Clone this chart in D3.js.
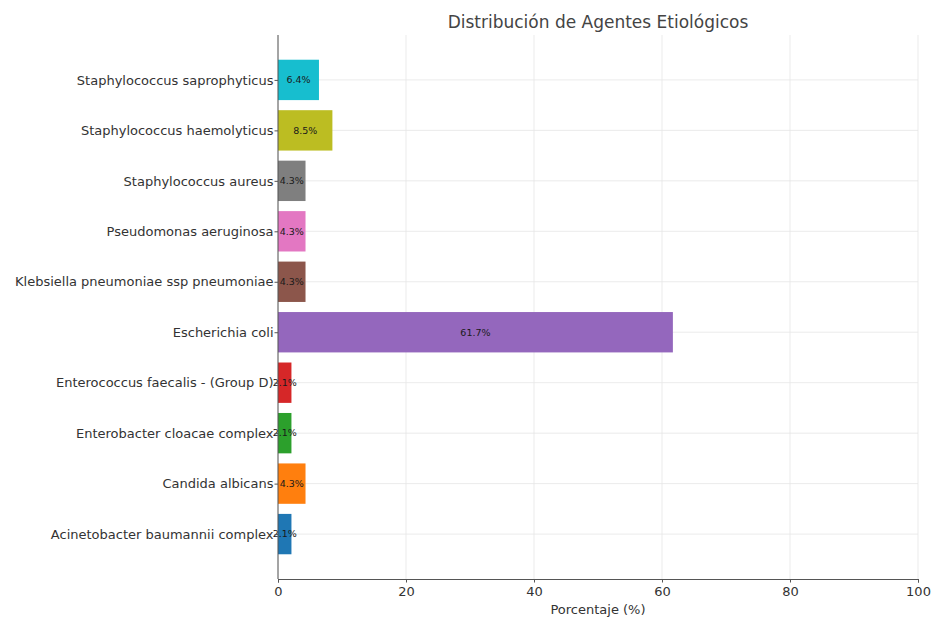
<!DOCTYPE html>
<html>
<head>
<meta charset="utf-8">
<script src="https://cdn.jsdelivr.net/npm/d3@7"></script>
<style>
  body { margin: 0; background: #fff; }
  svg { font-family: "DejaVu Sans", sans-serif; }
</style>
</head>
<body>
<svg id="chart" width="932" height="619"></svg>
<script>
// Data (bottom to top as drawn)
const categories = [
  "Acinetobacter baumannii complex",
  "Candida albicans",
  "Enterobacter cloacae complex",
  "Enterococcus faecalis - (Group D)",
  "Escherichia coli",
  "Klebsiella pneumoniae ssp pneumoniae",
  "Pseudomonas aeruginosa",
  "Staphylococcus aureus",
  "Staphylococcus haemolyticus",
  "Staphylococcus saprophyticus"
];
const values = [2.1, 4.3, 2.1, 2.1, 61.7, 4.3, 4.3, 4.3, 8.5, 6.4];
const colors = ["#1f77b4", "#ff7f0e", "#2ca02c", "#d62728", "#9467bd",
                "#8c564b", "#e377c2", "#7f7f7f", "#bcbd22", "#17becf"];
const xTicks = [0, 20, 40, 60, 80, 100];
const title = "Distribución de Agentes Etiológicos";
const xLabel = "Porcentaje (%)";

const svg = d3.select("#chart");
const margin = { left: 278, right: 14, top: 35, bottom: 40 };
const W = 932, H = 619;
const plotW = W - margin.left - margin.right;
const plotH = H - margin.top - margin.bottom;

const x = d3.scaleLinear().domain([0, 100]).range([0, plotW]);
// matplotlib-like: bars at integer positions, height 0.8, margins
const y = d3.scaleLinear().domain([-0.89, categories.length - 1 + 0.89]).range([plotH, 0]);
const barH = y(0) - y(0.8);

const g = svg.append("g").attr("transform", `translate(${margin.left},${margin.top})`);

// grid
g.append("g").selectAll("line.vg").data(xTicks).join("line")
  .attr("x1", d => x(d)).attr("x2", d => x(d))
  .attr("y1", 0).attr("y2", plotH)
  .attr("stroke", "#e6e6e6").attr("stroke-width", 0.8);
g.append("g").selectAll("line.hg").data(categories).join("line")
  .attr("x1", 0).attr("x2", plotW)
  .attr("y1", (d, i) => y(i)).attr("y2", (d, i) => y(i))
  .attr("stroke", "#e6e6e6").attr("stroke-width", 0.8);

// bars
g.append("g").selectAll("rect").data(values).join("rect")
  .attr("x", x(0))
  .attr("y", (d, i) => y(i) - barH / 2)
  .attr("width", d => x(d) - x(0))
  .attr("height", barH)
  .attr("fill", (d, i) => colors[i]);

// bar labels
g.append("g").selectAll("text").data(values).join("text")
  .attr("x", d => x(d / 2))
  .attr("y", (d, i) => y(i))
  .attr("dy", "0.35em")
  .attr("text-anchor", "middle")
  .attr("font-size", 9.5)
  .attr("fill", "#1a1a1a")
  .text(d => d.toFixed(1) + "%");

// axes
const xAxis = d3.axisBottom(x).tickValues(xTicks).tickSize(3.5).tickPadding(4).tickFormat(d3.format("d"));
const gx = g.append("g").attr("transform", `translate(0,${plotH})`).call(xAxis);
gx.select(".domain").attr("stroke", "#555");
gx.selectAll(".tick line").attr("stroke", "#555");
gx.selectAll("text").attr("font-size", 13).attr("fill", "#333").attr("font-family", "DejaVu Sans");

const yAxis = d3.axisLeft(y).tickValues(d3.range(categories.length)).tickSize(3.5).tickPadding(1)
  .tickFormat(i => categories[i]);
const gy = g.append("g").call(yAxis);
gy.select(".domain").attr("stroke", "#555").attr("d", `M0,${plotH}V0`);
gy.selectAll(".tick line").attr("stroke", "#555");
gy.selectAll("text").attr("font-size", 13).attr("fill", "#333").attr("font-family", "DejaVu Sans");

// title
svg.append("text")
  .attr("x", margin.left + plotW / 2).attr("y", 28)
  .attr("text-anchor", "middle")
  .attr("font-size", 17).attr("fill", "#444")
  .text(title);

// x label
svg.append("text")
  .attr("x", margin.left + plotW / 2).attr("y", 614)
  .attr("text-anchor", "middle")
  .attr("font-size", 13).attr("fill", "#333")
  .text(xLabel);
</script>
</body>
</html>
